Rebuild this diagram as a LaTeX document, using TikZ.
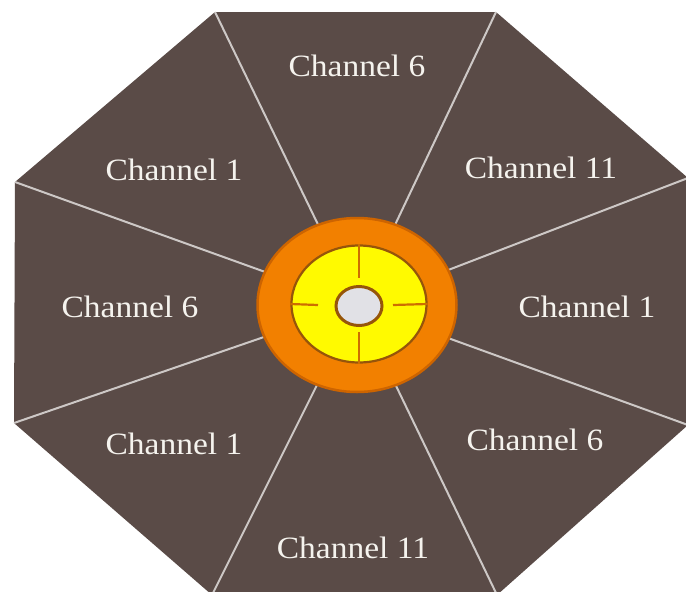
\documentclass[tikz,border=0pt]{standalone}
\usepackage{fontspec}
\setmainfont{Liberation Serif}
\usetikzlibrary{shapes.geometric}
\definecolor{slate}{RGB}{90,75,71}
\definecolor{spoke}{RGB}{205,200,198}
\definecolor{ringorange}{RGB}{242,128,0}
\definecolor{ringedge}{RGB}{205,100,0}
\definecolor{hubyellow}{RGB}{255,250,0}
\definecolor{hubedge}{RGB}{150,85,10}
\definecolor{cross}{RGB}{205,110,0}
\definecolor{core}{RGB}{225,225,230}
\definecolor{txt}{RGB}{245,243,238}
\tikzset{
  chan/.style={text=txt, font=\fontsize{31}{31}\selectfont, inner sep=0pt, xscale=1.08},
  spokeline/.style={draw=spoke, line width=2pt},
  crossline/.style={draw=cross, line width=2.2pt},
}
\begin{document}
\begin{tikzpicture}[x=1pt,y=-1pt]
\useasboundingbox (0,0) rectangle (686,592);
\fill[white] (0,0) rectangle (686,592);
% octagon vertices
\coordinate (v1) at (215,12);
\coordinate (v2) at (496,12);
\coordinate (v3) at (688,178);
\coordinate (v4) at (688,425);
\coordinate (v5) at (497,595);
\coordinate (v6) at (212,595);
\coordinate (v7) at (14,423);
\coordinate (v8) at (15,182);
\coordinate (c) at (357,305);
\fill[slate] (v1) -- (v2) -- (v3) -- (v4) -- (v5) -- (v6) -- (v7) -- (v8) -- cycle;
\foreach \v in {v1,v2,v3,v4,v5,v6,v7,v8} \draw[spokeline] (\v) -- (c);
% hub
\node[ellipse, draw=ringedge, line width=2.5pt, fill=ringorange, minimum width=199pt, minimum height=174pt, inner sep=0pt] (ring) at (c) {};
\node[ellipse, draw=hubedge, line width=2.2pt, fill=hubyellow, minimum width=135pt, minimum height=117pt, inner sep=0pt] (hub) at (359,304) {};
\node[ellipse, draw=hubedge, line width=3pt, fill=core, minimum width=46pt, minimum height=39pt, inner sep=0pt] (core) at (359,306) {};
\coordinate (ct) at (359,278);
\coordinate (cb) at (359,332);
\coordinate (cl) at (318,305);
\coordinate (cr) at (393,305);
\draw[crossline] (hub.north) -- (ct);
\draw[crossline] (cb) -- (hub.south);
\draw[crossline] (hub.west) -- (cl);
\draw[crossline] (cr) -- (hub.east);
% labels
\node[chan] (l1) at (357,66) {Channel 6};
\node[chan] (l2) at (541,168) {Channel 11};
\node[chan] (l3) at (587,307) {Channel 1};
\node[chan] (l4) at (535,440) {Channel 6};
\node[chan] (l5) at (353,548) {Channel 11};
\node[chan] (l6) at (174,444) {Channel 1};
\node[chan] (l7) at (130,307) {Channel 6};
\node[chan] (l8) at (174,170) {Channel 1};
\end{tikzpicture}
\end{document}
